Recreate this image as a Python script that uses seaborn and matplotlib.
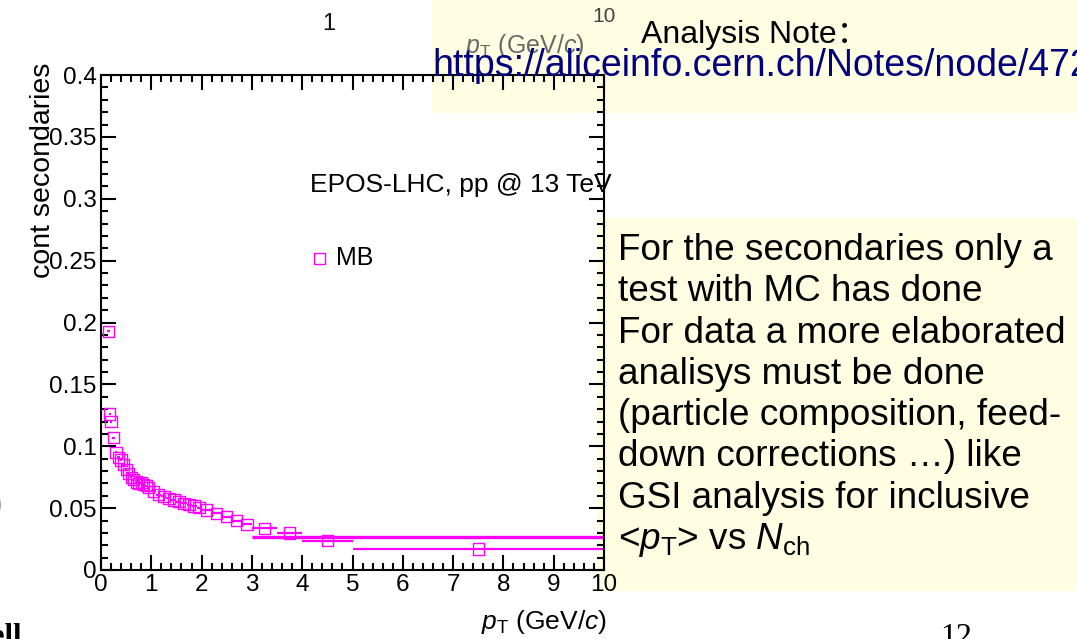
import numpy as np
import pandas as pd
import matplotlib
matplotlib.use("Agg")
import matplotlib.pyplot as plt
import seaborn as sns
from matplotlib.patches import Rectangle
from matplotlib.ticker import MultipleLocator, FuncFormatter

# ---------------- data ----------------
pt_center = [0.15, 0.175, 0.2, 0.25, 0.3, 0.35, 0.4, 0.45, 0.5, 0.55, 0.6, 0.65,
             0.7, 0.75, 0.8, 0.85, 0.9, 0.95, 1.05, 1.15, 1.25, 1.35, 1.45, 1.55,
             1.65, 1.75, 1.85, 1.95, 2.1, 2.3, 2.5, 2.7, 2.9, 3.25, 3.75, 4.5, 7.5]
pt_halfwidth = [0.025, 0.025, 0.025, 0.025, 0.025, 0.025, 0.025, 0.025, 0.025,
                0.025, 0.025, 0.025, 0.025, 0.025, 0.025, 0.025, 0.025, 0.025,
                0.05, 0.05, 0.05, 0.05, 0.05, 0.05, 0.05, 0.05, 0.05, 0.05,
                0.1, 0.1, 0.1, 0.1, 0.1, 0.25, 0.25, 0.5, 2.5]
frac_secondaries = [0.193, 0.126, 0.120, 0.107, 0.095, 0.091, 0.089, 0.085, 0.081,
                    0.078, 0.075, 0.073, 0.071, 0.070, 0.0705, 0.069, 0.068, 0.0665,
                    0.0635, 0.061, 0.0595, 0.058, 0.0566, 0.0553, 0.054, 0.0528,
                    0.0517, 0.0505, 0.0485, 0.0458, 0.043, 0.040, 0.037, 0.0337,
                    0.030, 0.0238, 0.0170]
band_x = [3.0, 10.0]
band_y = [0.0265, 0.0265]

series_label = "MB"
x_ticks = [0, 1, 2, 3, 4, 5, 6, 7, 8, 9, 10]
y_ticks = [0, 0.05, 0.1, 0.15, 0.2, 0.25, 0.3, 0.35, 0.4]

body_lines = ["For the secondaries only a",
              "test with MC has done",
              "For data a more elaborated",
              "analisys must be done",
              "(particle composition, feed-",
              "down corrections \u2026) like",
              "GSI analysis for inclusive",
              r"<$p_{\mathrm{T}}$> vs $N_{\mathrm{ch}}$"]

df = pd.DataFrame({"pt": pt_center, "frac": frac_secondaries, "hw": pt_halfwidth})

# ---------------- style ----------------
sns.set_theme(style="ticks")
plt.rcParams["font.family"] = ["Liberation Sans", "Noto Sans CJK SC", "DejaVu Sans"]
plt.rcParams["mathtext.fontset"] = "custom"
plt.rcParams["mathtext.rm"] = "Liberation Sans"
plt.rcParams["mathtext.it"] = "Liberation Sans:italic"
plt.rcParams["mathtext.bf"] = "Liberation Sans:bold"
plt.rcParams["text.color"] = "black"
plt.rcParams["axes.labelcolor"] = "black"
plt.rcParams["xtick.color"] = "black"
plt.rcParams["ytick.color"] = "black"
plt.rcParams["legend.labelcolor"] = "black"

W, H = 1077, 639
fig = plt.figure(figsize=(W / 100, H / 100), dpi=100, facecolor="white")


def fx(px):
    return px / W


def fy(py):
    return 1 - py / H


ax_l, ax_r, ax_t, ax_b = 101, 604, 75, 570
ax = fig.add_axes([fx(ax_l), fy(ax_b), fx(ax_r - ax_l), (ax_b - ax_t) / H])
ax.set_facecolor("none")

MAG = "#ff00ff"
ax.errorbar(df["pt"], df["frac"], xerr=df["hw"], fmt="none", ecolor=MAG,
            elinewidth=1.6, capsize=0, zorder=2)
ax.plot(band_x, band_y, color=MAG, lw=2.4, solid_capstyle="butt", zorder=2)
sns.scatterplot(data=df, x="pt", y="frac", marker="s", s=66, facecolor="none",
                edgecolor=MAG, linewidth=1.0, label=series_label, ax=ax, zorder=3)

ax.set_xlim(0, 10)
ax.set_ylim(0, 0.4)
ax.set_xticks(x_ticks)
ax.set_yticks(y_ticks)
ax.xaxis.set_minor_locator(MultipleLocator(0.2))
ax.yaxis.set_minor_locator(MultipleLocator(0.01))
ax.yaxis.set_major_formatter(FuncFormatter(lambda v, p: f"{v:g}"))
ax.xaxis.set_major_formatter(FuncFormatter(lambda v, p: f"{v:g}"))
ax.tick_params(which="both", direction="in", top=True, right=True,
               width=1.5, colors="black", labelcolor="black", labelsize=17.5)
ax.tick_params(which="major", length=10.8, pad=3)
ax.tick_params(which="minor", length=5)
for s in ax.spines.values():
    s.set_linewidth(1.5)
    s.set_color("black")

ax.set_xlabel(r"$p_{\mathrm{T}}$ (GeV/$c$)", fontsize=19, loc="right", color="black")
ax.xaxis.set_label_coords(1.006, -0.105)
ax.xaxis.label.set_va("center")
ax.set_ylabel("cont secondaries", fontsize=20.5, loc="top", color="black")
ax.yaxis.set_label_coords(-0.115, 1.026)
ax.yaxis.label.set_va("center")

ax.text(0.4155, 0.778, "EPOS-LHC, pp @ 13 TeV", transform=ax.transAxes,
        fontsize=19, ha="left", va="center", clip_on=False, color="black")

leg = ax.legend(loc="center left", bbox_to_anchor=(0.41, 0.63), frameon=False,
                fontsize=18, handlelength=1.0, handletextpad=0.15,
                borderpad=0, borderaxespad=0)
for t in leg.get_texts():
    t.set_color("black")

# ---------------- slide boxes ----------------
BOX = "#fffee2"
fig.patches.append(Rectangle((fx(432), fy(113)), fx(W - 432), 113 / H,
                             transform=fig.transFigure, facecolor=BOX,
                             edgecolor="none", zorder=-2))
fig.patches.append(Rectangle((fx(598), fy(591)), fx(W - 598), (591 - 218) / H,
                             transform=fig.transFigure, facecolor=BOX,
                             edgecolor="none", zorder=-2))

# remnants of the chart above (partly hidden)
fig.text(fx(329), fy(24), "1", fontsize=17, ha="center", va="center",
         color="#111111", zorder=-1)
fig.text(fx(604), fy(16), "10", fontsize=15, ha="center", va="center",
         color="#444444", zorder=-1)
fig.text(fx(585), fy(46), r"$p_{\mathrm{T}}$ (GeV/$c$)", fontsize=18,
         ha="right", va="center", color="#6a6a6a", zorder=-1)

# text on the slide
fig.text(fx(641), fy(43), "Analysis Note\uff1a", fontsize=23, ha="left",
         va="baseline", color="black", zorder=10)
fig.text(fx(432), fy(76), "https://aliceinfo.cern.ch/Notes/node/472",
         fontsize=27, ha="left", va="baseline", color="#000080", zorder=10)

y0, dy = 260, 41.3
for i, line in enumerate(body_lines):
    fig.text(fx(618), fy(y0 + i * dy), line, fontsize=26.6, ha="left",
             va="baseline", color="black", zorder=10)

# slide footer fragments
fig.text(fx(956), fy(645), "12", fontsize=23, ha="center", va="baseline",
         family="Liberation Serif", color="black", zorder=10)
fig.text(fx(22), fy(645), "ell", fontsize=22, ha="right", va="baseline",
         family="Liberation Serif", weight="bold", color="black", zorder=10)
fig.text(fx(2), fy(505), ")", fontsize=18, ha="right", va="center",
         color="#999999", zorder=10)

fig.savefig("out.png", dpi=100, facecolor="white")
